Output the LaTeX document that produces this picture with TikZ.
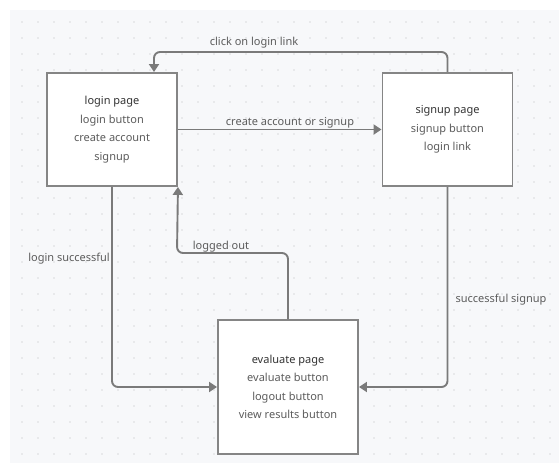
\documentclass[tikz,border=0pt]{standalone}
\usepackage{fontspec}
\setmainfont{Noto Sans}
\usetikzlibrary{arrows.meta}
\definecolor{bgc}{HTML}{F7F8FA}
\definecolor{dotc}{HTML}{D9DADD}
\definecolor{linec}{HTML}{7A7A7A}
\definecolor{boxc}{HTML}{858585}
\definecolor{txtc}{HTML}{5C5C5C}
\definecolor{ttlc}{HTML}{333333}
\begin{document}
\begin{tikzpicture}[x=1pt,y=-1pt,
  pagebox/.style={draw=boxc,line width=1.9pt,fill=white,minimum width=130pt,minimum height=113pt,
    align=center,text=txtc,font=\fontsize{11}{18.5}\selectfont,inner sep=0pt},
  conn/.style={draw=linec,line width=1.9pt,rounded corners=6pt,-{Triangle[length=8pt,width=10pt]}},
  elabel/.style={text=txtc,font=\fontsize{11}{13}\selectfont,inner sep=0pt}]
\useasboundingbox (0,0) rectangle (559,470);
\fill[white] (0,0) rectangle (559,470);
\fill[bgc] (10,10) rectangle (559,463);
\foreach \i in {22,38,...,550}{
  \foreach \j in {22,38,...,455}{
    \fill[dotc] (\i,\j) circle (0.8pt);
  }
}
\node[pagebox] (login) at (112,129.5) {{\bfseries\color{ttlc}login page}\\login button\\create account\\signup};
\node[pagebox] (signup) at (447.5,129.5) {{\bfseries\color{ttlc}signup page}\\signup button\\login link};
\node[pagebox,minimum width=140pt,minimum height=134pt] (eval) at (288,387) {{\bfseries\color{ttlc}evaluate page}\\evaluate button\\logout button\\view results button};
\coordinate (c1) at (154,52);
\coordinate (c2) at (177,253);
\draw[conn] (signup.north) |- (c1) -- (login.north -| c1);
\draw[conn] (login.east) -- (signup.west);
\draw[conn] (login.south) |- (eval.west);
\draw[conn] (eval.north) |- (c2) -- (login.south east);
\draw[conn] (signup.south) |- (eval.east);
\node[elabel] (l1) at (254,43) {click on login link};
\node[elabel] (l2) at (290,123) {create account or signup};
\node[elabel,anchor=east] (l3) at (110,259) {login successful};
\node[elabel] (l4) at (221,247) {logged out};
\node[elabel] (l5) at (501,300) {successful signup};
\end{tikzpicture}
\end{document}
